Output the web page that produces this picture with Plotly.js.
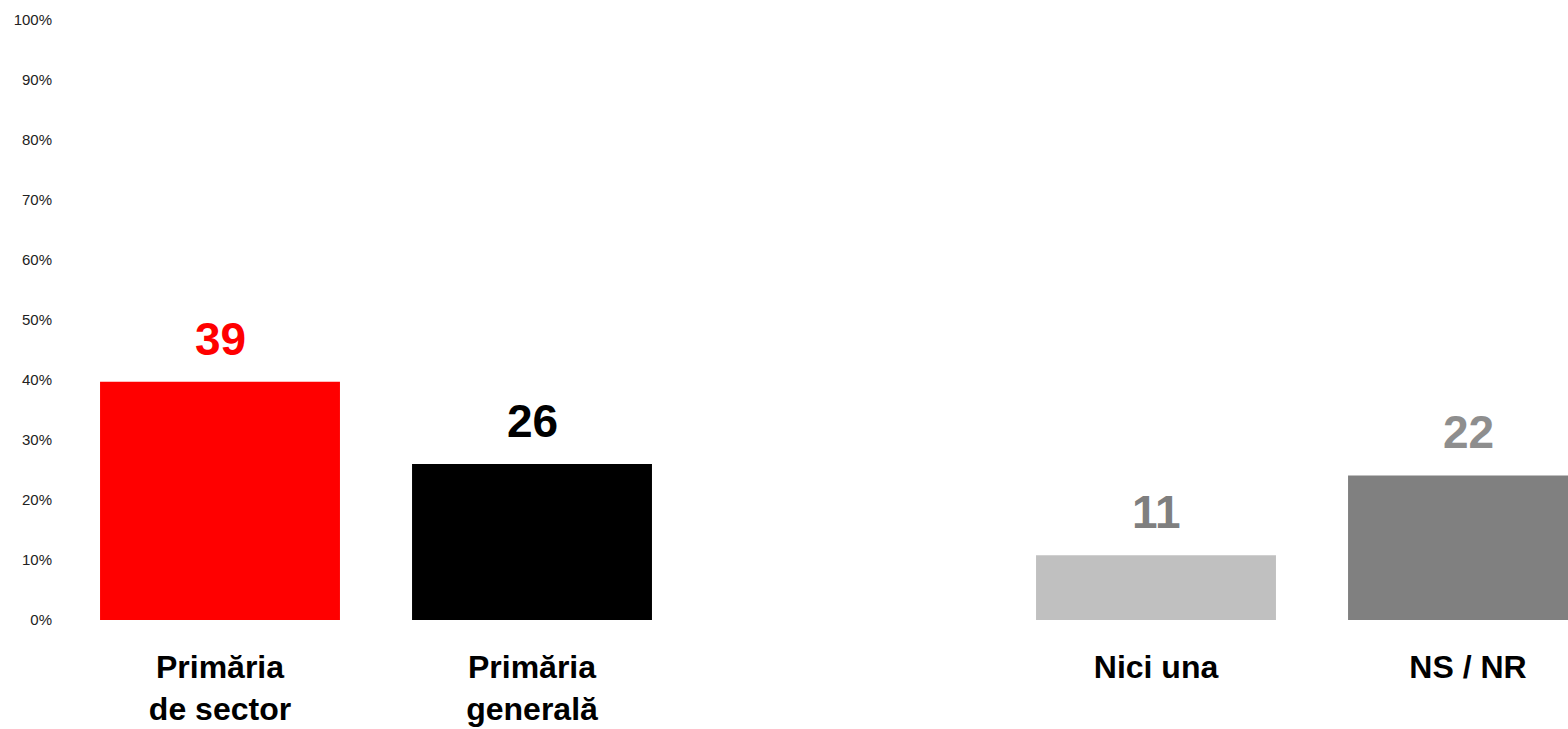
<!DOCTYPE html>
<html>
<head>
<meta charset="utf-8">
<script src="https://cdn.plot.ly/plotly-3.0.1.min.js"></script>
<style>html,body{margin:0;padding:0;background:#fff;}#chart{width:1568px;height:729px;}</style>
</head>
<body>
<div id="chart"></div>
<script>
// Data
var categories = ["Primăria<br>de sector", "Primăria<br>generală", " ", "Nici una", "NS / NR"];
var barValues = [39.7, 26.0, null, 10.8, 24.1];
var valueLabels = ["39", "26", "", "11", "22"];
var barColors = ["#ff0000", "#000000", "rgba(0,0,0,0)", "#c0c0c0", "#808080"];
var labelColors = ["#ff0000", "#000000", "#000000", "#7f7f7f", "#8e8e8e"];
var yTickVals = [0, 10, 20, 30, 40, 50, 60, 70, 80, 90, 100];
var yTickText = ["0%", "10%", "20%", "30%", "40%", "50%", "60%", "70%", "80%", "90%", "100%"];

var FONT = "Liberation Sans, Arial, Helvetica, sans-serif";

var trace = {
  type: "bar",
  x: categories,
  y: barValues,
  marker: {color: barColors, line: {width: 0}},
  hoverinfo: "skip"
};

var annotations = [];
for (var i = 0; i < categories.length; i++) {
  if (barValues[i] === null) continue;
  annotations.push({
    x: categories[i], y: barValues[i], xref: "x", yref: "y",
    text: valueLabels[i], showarrow: false,
    yanchor: "bottom", xanchor: "center", yshift: 15,
    font: {family: FONT, size: 46, weight: "bold", color: labelColors[i]}
  });
}

var layout = {
  width: 1568, height: 729,
  margin: {l: 64, r: 0, t: 20, b: 109, pad: 0},
  paper_bgcolor: "#ffffff", plot_bgcolor: "#ffffff",
  showlegend: false,
  bargap: 0.231,
  xaxis: {
    type: "category",
    categoryorder: "array", categoryarray: categories,
    range: [-0.5, 4.3205],
    showgrid: false, zeroline: false, showline: false, ticks: "",
    tickfont: {family: FONT, size: 32, weight: "bold", color: "#000000"},
    ticklabelstandoff: 25,
    fixedrange: true
  },
  yaxis: {
    range: [0, 100],
    tickmode: "array",
    tickvals: yTickVals,
    ticktext: yTickText,
    showgrid: false, zeroline: false, showline: false, ticks: "",
    tickfont: {family: FONT, size: 15, color: "#222222"},
    ticklabelstandoff: 11,
    fixedrange: true
  },
  annotations: annotations
};

Plotly.newPlot("chart", [trace], layout, {displayModeBar: false, staticPlot: true});
</script>
</body>
</html>
